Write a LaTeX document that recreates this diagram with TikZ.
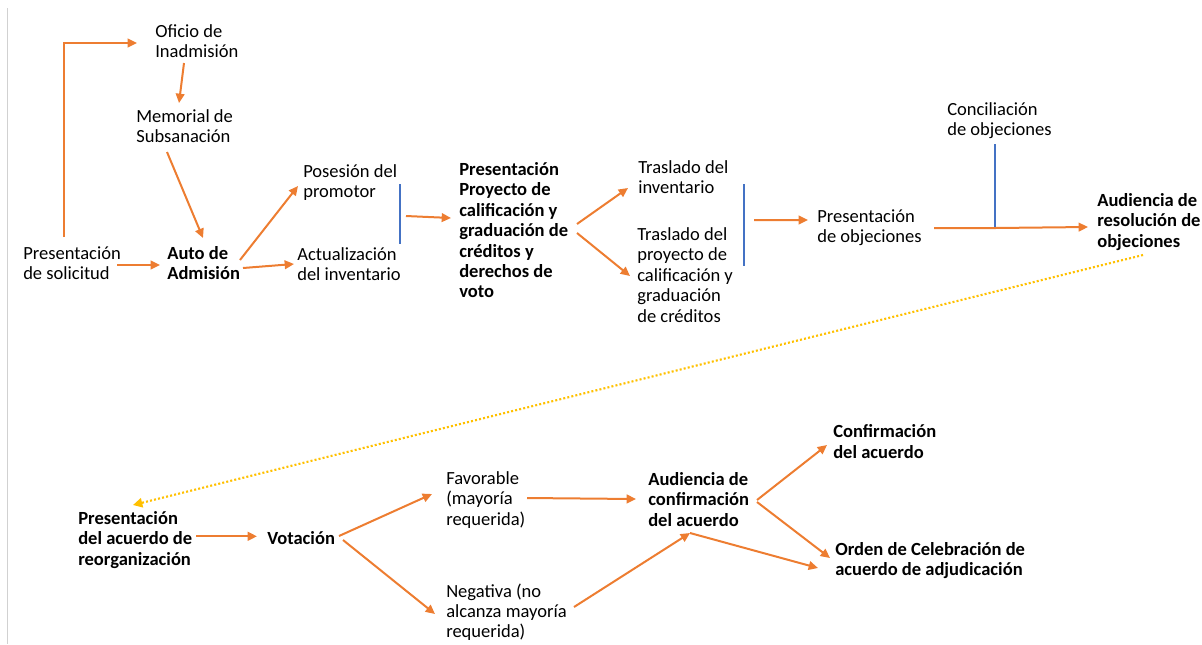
\documentclass[tikz,border=0pt]{standalone}
\usepackage{fontspec}
\setmainfont{Carlito}
\usetikzlibrary{arrows.meta}
\definecolor{ora}{HTML}{ED7D31}
\definecolor{blu}{HTML}{4472C4}
\definecolor{yel}{HTML}{FFC000}
\begin{document}
\begin{tikzpicture}[x=0.75pt,y=-0.75pt,
  lbl/.style={anchor=north west,inner sep=0pt,align=left,font=\fontsize{13.9}{15.3}\selectfont,execute at begin node=\strut},
  blbl/.style={lbl,font=\fontsize{13.9}{15.3}\selectfont\bfseries},
  arr/.style={draw=ora,line width=1.5pt,-{Triangle[length=7pt,width=6.5pt,fill=ora]}},
  bar/.style={draw=blu,line width=1.6pt},
  dotarr/.style={draw=yel,line width=1.6pt,dash pattern=on 1.5pt off 1.6pt,-{Triangle[length=7pt,width=7pt,fill=yel]}}]
\useasboundingbox (0,0) rectangle (1202,644);
\draw[black!18,line width=0.7pt] (7,8) -- (7,644);
% nodes
\node[lbl] (ofi) at (155,24.3) {Oficio de\\Inadmisión};
\node[lbl] (mem) at (136,109.3) {Memorial de\\Subsanación};
\node[lbl] (sol) at (23,246.3) {Presentación\\de solicitud};
\node[blbl] (auto) at (167,246.3) {Auto de\\Admisión};
\node[lbl] (pos) at (303,164.3) {Posesión del\\promotor};
\node[lbl] (act) at (297,247.3) {Actualización\\del inventario};
\node[blbl] (proy) at (459,162.3) {Presentación\\Proyecto de\\calificación y\\graduación de\\créditos y\\derechos de\\voto};
\node[lbl] (tinv) at (638,160.3) {Traslado del\\inventario};
\node[lbl] (tproy) at (637,227.3) {Traslado del\\proyecto de\\calificación y\\graduación\\de créditos};
\node[lbl] (pobj) at (817,209.3) {Presentación\\de objeciones};
\node[lbl] (conc) at (947,102.3) {Conciliación\\de objeciones};
\node[blbl] (aud) at (1097,193.3) {Audiencia de\\resolución de\\objeciones};
\node[blbl] (pacu) at (78,511.3) {Presentación\\del acuerdo de\\reorganización};
\node[blbl] (vot) at (267,530.3) {Votación};
\node[lbl] (fav) at (446,471.3) {Favorable\\(mayoría\\requerida)};
\node[lbl] (neg) at (446,583.3) {Negativa (no\\alcanza mayoría\\requerida)};
\node[blbl] (acon) at (648,472.3) {Audiencia de\\confirmación\\del acuerdo};
\node[blbl] (conf) at (833,424.3) {Confirmación\\del acuerdo};
\node[blbl] (orden) at (835,542.3) {Orden de Celebración de\\acuerdo de adjudicación};
% bars and junctions
\coordinate (b1t) at (400,184);
\coordinate (b1b) at (400,244);
\coordinate (b1) at (406,216);
\coordinate (b2t) at (744,184);
\coordinate (b2b) at (744,266);
\coordinate (b2) at (754,220);
\coordinate (cj) at (995,228);
\coordinate (J) at (690,533);
\draw[bar] (b1t) -- (b1b);
\draw[bar] (b2t) -- (b2b);
% connectors
\draw[arr] ([shift={(41,-9.3)}]sol.north west) |- ([shift={(-18,18.7)}]ofi.north west);
\draw[arr] ([shift={(29,38.7)}]ofi.north west) -- ([shift={(43,-6.3)}]mem.north west);
\draw[arr] ([shift={(31,42.7)}]mem.north west) -- ([shift={(36,-8.3)}]auto.north west);
\draw[arr] ([shift={(94,18.7)}]sol.north west) -- ([shift={(-7,18.7)}]auto.north west);
\draw[arr] ([shift={(73,13.7)}]auto.north west) -- ([shift={(-5,21.7)}]pos.north west);
\draw[arr] ([shift={(76,21.7)}]auto.north west) -- ([shift={(-3,16.7)}]act.north west);
\draw[arr] (b1) -- ([shift={(-8,55.7)}]proy.north west);
\draw[arr] ([shift={(118,61.7)}]proy.north west) -- ([shift={(-10,27.7)}]tinv.north west);
\draw[arr] ([shift={(118,70.7)}]proy.north west) -- ([shift={(-7,48.7)}]tproy.north west);
\draw[arr] (b2) -- ([shift={(-9,10.7)}]pobj.north west);
\draw[bar] ([shift={(48,41.7)}]conc.north west) -- (cj);
\draw[arr] ([shift={(117,18.7)}]pobj.north west) -- (cj) -- ([shift={(-9,33.7)}]aud.north west);
\draw[dotarr] ([shift={(46,61.7)}]aud.north west) -- ([shift={(55,-6.3)}]pacu.north west);
\draw[arr] ([shift={(118,25)}]pacu.north west) -- ([shift={(-10,6)}]vot.north west);
\draw[arr] ([shift={(72,5.7)}]vot.north west) -- ([shift={(-14,22.7)}]fav.north west);
\draw[arr] ([shift={(76,9.7)}]vot.north west) -- ([shift={(-11,30.7)}]neg.north west);
\draw[arr] ([shift={(81,26.7)}]fav.north west) -- ([shift={(-12,26.7)}]acon.north west);
\draw[arr] ([shift={(128,23.7)}]neg.north west) -- (J);
\draw[arr] (J) -- ([shift={(-17,25.7)}]orden.north west);
\draw[arr] ([shift={(109,27.7)}]acon.north west) -- ([shift={(-6,20.7)}]conf.north west);
\draw[arr] ([shift={(109,29.7)}]acon.north west) -- ([shift={(-5,15.7)}]orden.north west);
\end{tikzpicture}
\end{document}
